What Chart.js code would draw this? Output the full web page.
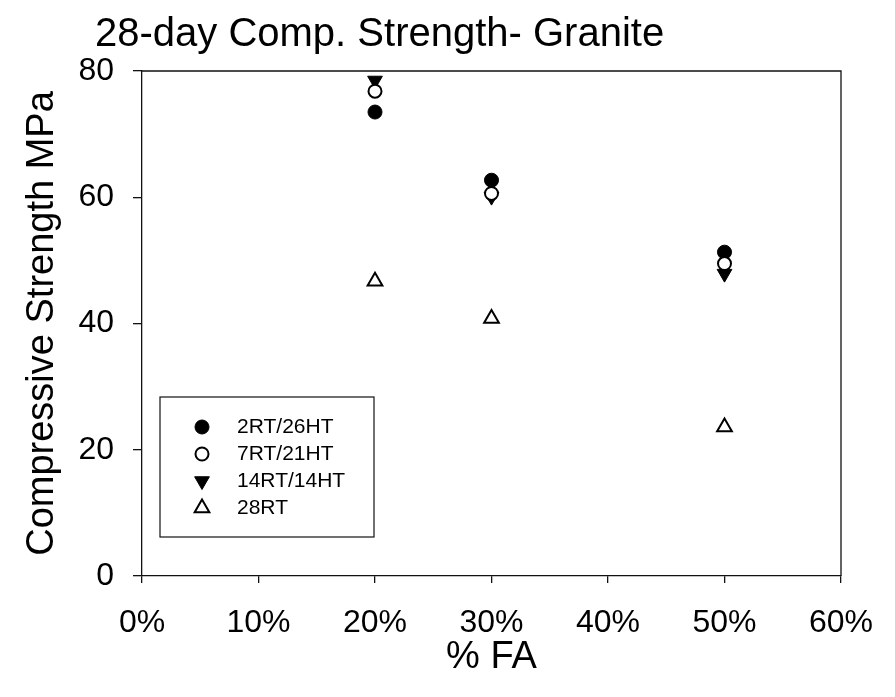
<!DOCTYPE html>
<html>
<head>
<meta charset="utf-8">
<script src="https://cdn.jsdelivr.net/npm/chart.js@4/dist/chart.umd.min.js"></script>
<style>
  html, body { margin: 0; padding: 0; background: #fff; }
  #wrap { width: 895px; height: 697px; }
</style>
</head>
<body>
<div id="wrap"><canvas id="theChart" width="895" height="697"></canvas></div>
<script>
// fly ash content (%) for each mix
var faLevels = [20, 30, 50];

// 28-day compressive strength (MPa) per curing regime
var rt2ht26 = [73.5, 62.7, 51.3];
var rt7ht21 = [76.8, 60.6, 49.5];
var rt14ht14 = [78.5, 60.1, 47.9];
var rt28 = [46.7, 40.8, 23.6];

var seriesNames = ['2RT/26HT', '7RT/21HT', '14RT/14HT', '28RT'];
var xTicks = [0, 10, 20, 30, 40, 50, 60];
var yTicks = [0, 20, 40, 60, 80];

var FONT = "'Liberation Sans', Arial, sans-serif";

function pts(values){
  var out = [];
  for (var i = 0; i < faLevels.length; i++) {
    out.push({x: faLevels[i], y: values[i]});
  }
  return out;
}

var styles = [
  {pointStyle: 'circle', pointRadius: 7, pointBorderWidth: 1, bg: '#000', order: 1},
  {pointStyle: 'circle', pointRadius: 6.5, pointBorderWidth: 2, bg: '#fff', order: 0},
  {pointStyle: 'triangle', pointRotation: 180, pointRadius: 8.5, pointBorderWidth: 1, bg: '#000', order: 2},
  {pointStyle: 'triangle', pointRadius: 8.5, pointBorderWidth: 2, bg: '#fff', order: 3}
];
var allValues = [rt2ht26, rt7ht21, rt14ht14, rt28];

var datasets = [];
for (var s = 0; s < allValues.length; s++) {
  datasets.push({
    label: seriesNames[s],
    data: pts(allValues[s]),
    pointStyle: styles[s].pointStyle,
    rotation: styles[s].pointRotation || 0,
    pointRadius: styles[s].pointRadius,
    pointHoverRadius: styles[s].pointRadius,
    pointBorderWidth: styles[s].pointBorderWidth,
    pointBackgroundColor: styles[s].bg,
    pointBorderColor: '#000',
    showLine: false,
    order: styles[s].order
  });
}

// frame round the plot area, title and the boxed legend
var decorations = {
  id: 'decorations',
  beforeDatasetsDraw: function(chart){
    var ctx = chart.ctx, a = chart.chartArea;
    ctx.save();
    ctx.strokeStyle = '#111';
    ctx.lineWidth = 1.3;
    ctx.beginPath();
    ctx.moveTo(a.left, a.top);
    ctx.lineTo(a.right, a.top);
    ctx.lineTo(a.right, a.bottom);
    ctx.stroke();
    ctx.restore();
  },
  afterDatasetsDraw: function(chart){
    var ctx = chart.ctx;
    ctx.save();
    // chart title
    ctx.fillStyle = '#000';
    ctx.font = '40px ' + FONT;
    ctx.textAlign = 'left';
    ctx.textBaseline = 'alphabetic';
    ctx.fillText('28-day Comp. Strength- Granite', 95, 46);

    // legend
    ctx.strokeStyle = '#111';
    ctx.lineWidth = 1.2;
    ctx.strokeRect(160, 397, 214, 140);
    ctx.font = '21px ' + FONT;
    ctx.textBaseline = 'middle';
    for (var i = 0; i < seriesNames.length; i++) {
      var y = 427 + i * 27;
      var st = styles[i];
      ctx.fillStyle = st.bg;
      ctx.strokeStyle = '#000';
      ctx.lineWidth = st.pointBorderWidth;
      Chart.helpers.drawPoint(ctx, {
        pointStyle: st.pointStyle,
        rotation: st.pointRotation || 0,
        radius: st.pointRadius,
        borderWidth: st.pointBorderWidth
      }, 202, y);
      ctx.fillStyle = '#000';
      ctx.fillText(seriesNames[i], 237, y);
    }
    ctx.restore();
  }
};

var ctx = document.getElementById('theChart').getContext('2d');
var chart = new Chart(ctx, {
  type: 'scatter',
  data: { datasets: datasets },
  options: {
    responsive: false,
    animation: false,
    events: [],
    layout: { padding: { left: 0, right: 54, top: 71, bottom: 0 } },
    plugins: {
      legend: { display: false },
      tooltip: { enabled: false },
      title: { display: false }
    },
    scales: {
      x: {
        type: 'linear',
        min: 0,
        max: 60,
        afterBuildTicks: function(scale){
          scale.ticks = xTicks.map(function(v){ return {value: v}; });
        },
        ticks: {
          color: '#000',
          font: { family: FONT, size: 32 },
          padding: 21,
          maxRotation: 0,
          callback: function(v){ return v + '%'; }
        },
        grid: { drawOnChartArea: false, tickLength: 7, color: '#111', lineWidth: 1.3 },
        border: { color: '#111', width: 1.3 },
        title: {
          display: true,
          text: '% FA',
          color: '#000',
          font: { family: FONT, size: 38 },
          padding: { top: 0, bottom: 17 }
        },
        afterFit: function(scale){ scale.height = 121; }
      },
      y: {
        type: 'linear',
        min: 0,
        max: 80,
        afterBuildTicks: function(scale){
          scale.ticks = yTicks.map(function(v){ return {value: v}; });
        },
        ticks: {
          color: '#000',
          font: { family: FONT, size: 32 },
          padding: 19
        },
        grid: { drawOnChartArea: false, tickLength: 9, color: '#111', lineWidth: 1.3 },
        border: { color: '#111', width: 1.3 },
        title: {
          display: true,
          text: 'Compressive Strength MPa',
          color: '#000',
          font: { family: FONT, size: 38 },
          padding: { top: 20, bottom: 0 }
        },
        afterFit: function(scale){ scale.width = 142; }
      }
    }
  },
  plugins: [decorations]
});
</script>
</body>
</html>
